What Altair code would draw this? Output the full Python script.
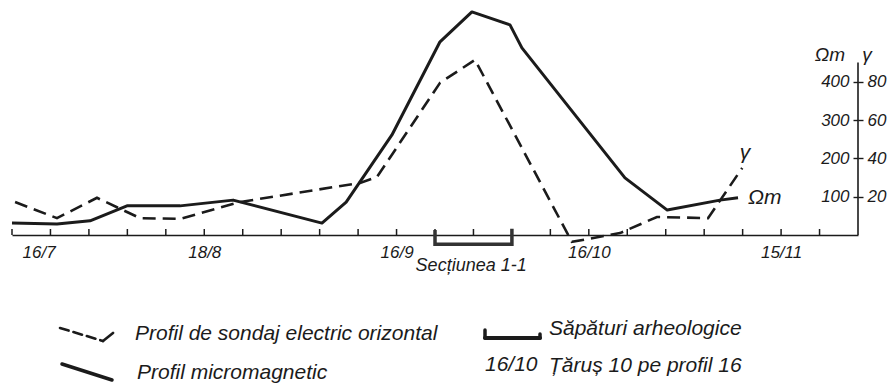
import altair as alt
import pandas as pd

# ---- data ----
solid_x = [0.0, 1.17, 2.03, 2.99, 4.37, 5.75, 8.06, 8.69, 9.88, 11.13, 11.96, 12.95, 13.26, 15.94, 17.04, 18.41, 18.88]
solid_y = [31, 29, 37, 76, 76, 91, 31, 86, 261, 504, 582, 548, 488, 149, 65, 91, 97]

dashed_x = [0.08, 1.17, 2.21, 3.33, 4.37, 5.93, 9.05, 9.49, 11.13, 12.04, 14.56, 15.81, 16.77, 18.10, 18.99]
dashed_y = [86, 44, 97, 44, 42, 86, 136, 151, 397, 457, -18, 5, 47, 44, 175]

x_ticks = list(range(22))
x_label_values = [0, 5, 10, 15, 20]
x_label_texts = ["16/7", "18/8", "16/9", "16/10", "15/11"]

y_tick_values = [100, 200, 300, 400]       # Ωm
gamma_factor = 5                            # γ = Ωm / 5  -> 20, 40, 60, 80

section_x = [11, 11, 13, 13]
section_y = [13, -24, -24, 16]
section_label = "Secțiunea 1-1"

legend_texts = ["Profil de sondaj electric orizontal", "Profil micromagnetic",
                "Săpături arheologice", "16/10", "Țăruș 10 pe profil 16"]

FONT = "Liberation Sans"
INK = "#1b1b1b"
W, H = 846, 230

solid_df = pd.DataFrame({"x": solid_x, "y": solid_y, "o": range(len(solid_x))})
dashed_df = pd.DataFrame({"x": dashed_x, "y": dashed_y, "o": range(len(dashed_x))})
ticks_df = pd.DataFrame({"x": x_ticks})
section_df = pd.DataFrame({"x": section_x, "y": section_y, "o": range(len(section_x))})
one = pd.DataFrame({"k": [0]})

xscale = alt.Scale(domain=[0, 22], nice=False, zero=False)
yscale = alt.Scale(domain=[0, 600], nice=False, zero=False)

label_expr = " : ".join(
    [f"datum.value == {v} ? '{t}'" for v, t in zip(x_label_values, x_label_texts)]
) + " : ''"

x_axis = alt.Axis(values=x_label_values, labelExpr=label_expr, ticks=False, grid=False,
                  domain=True, domainColor=INK, domainWidth=1.6, title=None,
                  labelFont=FONT, labelFontSize=17, labelFontStyle="italic",
                  labelColor=INK, labelPadding=9, labelFlush=True, labelFlushOffset=-10)

y_axis_left = alt.Axis(orient="left", offset=-W, values=y_tick_values, domain=False, grid=False,
                       ticks=True, tickSize=5, tickColor=INK, tickWidth=1.4, title=None,
                       labelFont=FONT, labelFontSize=17, labelFontStyle="italic",
                       labelColor=INK, labelPadding=4)
y_axis_right = alt.Axis(orient="right", values=y_tick_values, domain=False, grid=False,
                        ticks=True, tickSize=5, tickColor=INK, tickWidth=1.4, title=None,
                        labelExpr=f"datum.value / {gamma_factor}",
                        labelFont=FONT, labelFontSize=17, labelFontStyle="italic",
                        labelColor=INK, labelPadding=4)

solid = alt.Chart(solid_df).mark_line(color=INK, strokeWidth=3, strokeJoin="round").encode(
    x=alt.X("x:Q", scale=xscale, axis=x_axis),
    y=alt.Y("y:Q", scale=yscale, axis=y_axis_left),
    order="o:Q",
)
dashed = alt.Chart(dashed_df).mark_line(color=INK, strokeWidth=2.6, strokeDash=[13, 7]).encode(
    x=alt.X("x:Q", scale=xscale, axis=None),
    y=alt.Y("y:Q", scale=yscale, axis=y_axis_right),
    order="o:Q",
)

tick_marks = alt.Chart(ticks_df).mark_rule(color=INK, strokeWidth=1.5).encode(
    x=alt.X("x:Q", scale=xscale, axis=None),
    y=alt.value(H),
    y2=alt.value(H - 6),
)

right_axis_line = alt.Chart(one).mark_rule(color=INK, strokeWidth=1.6).encode(
    x=alt.datum(22, scale=xscale, axis=None),
    y=alt.datum(0, scale=yscale, axis=None),
    y2=alt.datum(450),
)

section = alt.Chart(section_df).mark_line(color="#333333", strokeWidth=3.5, strokeJoin="miter").encode(
    x=alt.X("x:Q", scale=xscale, axis=None),
    y=alt.Y("y:Q", scale=yscale, axis=None),
    order="o:Q",
)


def txt(x, y, text, size, align="center", dx=0):
    return alt.Chart(one).mark_text(font=FONT, fontSize=size, fontStyle="italic", color=INK,
                                    align=align, baseline="middle", dx=dx).encode(
        x=alt.datum(x, scale=xscale, axis=None),
        y=alt.datum(y, scale=yscale, axis=None),
        text=alt.value(text),
    )


section_text = txt(11.94, -82, section_label, 18)
lbl_om = txt(19.14, 97, "Ωm", 21, align="left")
lbl_gamma = txt(19.06, 215, "γ", 21)
hdr_om = txt(22, 470, "Ωm", 19, dx=-28)
hdr_gamma = txt(22, 470, "γ", 19, dx=9)


def prule(x1, y1, x2, y2, width, dash=None):
    kw = {"strokeDash": dash} if dash else {}
    return alt.Chart(one).mark_rule(color=INK, strokeWidth=width, strokeCap="round", **kw).encode(
        x=alt.value(x1), y=alt.value(y1), x2=alt.value(x2), y2=alt.value(y2))


def ptxt(x, y, text, size=21):
    return alt.Chart(one).mark_text(font=FONT, fontSize=size, fontStyle="italic", color=INK,
                                    align="left", baseline="middle").encode(
        x=alt.value(x), y=alt.value(y), text=alt.value(text))


legend = [
    prule(48, 323, 91, 336, 2.6, [9, 5]),
    prule(91, 336, 101, 328, 2.6),
    ptxt(123, 329, legend_texts[0]),
    prule(50, 359, 100, 375, 3.5),
    ptxt(125, 368, legend_texts[1]),
    prule(473, 325, 473, 333, 3.5),
    prule(473, 333, 528, 333, 4),
    prule(528, 329, 528, 333, 3.5),
    ptxt(537, 324, legend_texts[2]),
    ptxt(473, 360, legend_texts[3]),
    ptxt(537, 361, legend_texts[4]),
]

chart = alt.layer(
    solid, dashed, tick_marks, right_axis_line, section,
    section_text, lbl_om, lbl_gamma, hdr_om, hdr_gamma, *legend
).resolve_axis(x="independent", y="independent").properties(
    width=W, height=H,
    autosize=alt.AutoSizeParams(type="none"),
    padding={"left": 12, "top": 5, "right": 892 - 12 - W, "bottom": 387 - 5 - H},
    background="white",
).configure_view(stroke=None)

chart.save("out.html", embed_options={"renderer": "svg", "actions": False})
